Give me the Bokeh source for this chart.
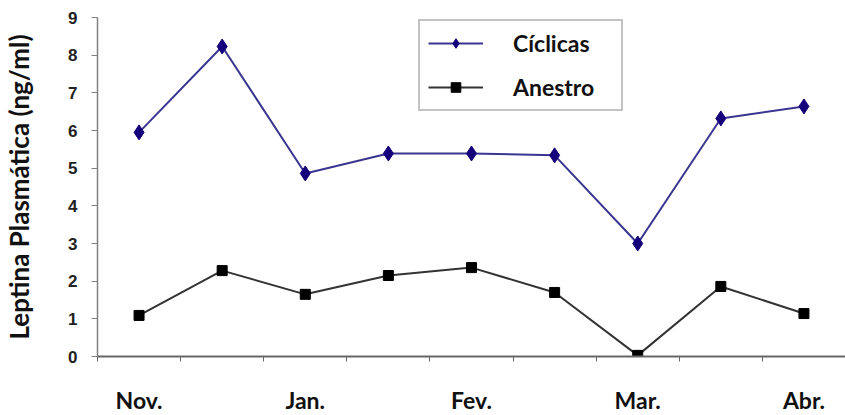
from bokeh.plotting import figure
from bokeh.models import (LinearAxis, FixedTicker, Legend, LegendItem, Range1d)
from bokeh.embed import file_html
from bokeh.resources import INLINE

months = ["Nov.", "", "Jan.", "", "Fev.", "", "Mar.", "", "Abr."]
ciclicas = [5.95, 8.23, 4.86, 5.39, 5.39, 5.34, 3.0, 6.32, 6.64]
anestro = [1.09, 2.28, 1.65, 2.15, 2.36, 1.70, 0.03, 1.86, 1.14]
y_ticks = [0, 1, 2, 3, 4, 5, 6, 7, 8, 9]
x = list(range(len(months)))

p = figure(frame_width=748, frame_height=339, output_backend="svg", toolbar_location=None,
           x_range=Range1d(-0.5, 8.5), y_range=Range1d(0, 9),
           min_border_left=97, min_border_right=0, min_border_top=17, min_border_bottom=55)
p.xaxis.visible = False
p.yaxis.visible = False
p.grid.visible = False
p.outline_line_color = None
p.background_fill_color = "white"
p.border_fill_color = "white"

# y axis
yax = LinearAxis(ticker=FixedTicker(ticks=y_ticks))
yax.axis_line_color = "#808080"
yax.axis_line_width = 1.5
yax.major_tick_line_color = "#808080"
yax.major_tick_out = 6
yax.major_tick_in = 0
yax.minor_tick_line_color = None
yax.major_label_text_font = "Liberation Sans"
yax.major_label_text_font_style = "bold"
yax.major_label_text_font_size = "17px"
yax.major_label_text_color = "#222222"
yax.major_label_standoff = 14
yax.axis_label = "Leptina Plasmática (ng/ml)"
yax.axis_label_text_font = "Lato"
yax.axis_label_text_font_style = "bold"
yax.axis_label_text_font_size = "26px"
yax.axis_label_text_color = "#111111"
yax.axis_label_standoff = 30
p.add_layout(yax, "left")

# x axis line with category-boundary ticks
xax = LinearAxis(ticker=FixedTicker(ticks=[i - 0.5 for i in range(len(months) + 1)]))
xax.axis_line_color = "#666666"
xax.axis_line_width = 2
xax.major_tick_line_color = "#666666"
xax.major_tick_out = 5
xax.major_tick_in = 0
xax.minor_tick_line_color = None
xax.major_label_text_font_size = "0px"
xax.major_label_standoff = 0
p.add_layout(xax, "below")

# month labels
lab = LinearAxis(ticker=FixedTicker(ticks=[0, 2, 4, 6, 8]),
                 major_label_overrides={i: months[i] for i in [0, 2, 4, 6, 8]})
lab.axis_line_color = None
lab.major_tick_line_color = None
lab.minor_tick_line_color = None
lab.major_label_text_font = "Lato"
lab.major_label_text_font_style = "bold"
lab.major_label_text_font_size = "23px"
lab.major_label_text_color = "#111111"
lab.major_label_standoff = 18
p.add_layout(lab, "below")

l1 = p.line(x, ciclicas, line_color="#3a3590", line_width=2)
m1 = p.scatter(x, ciclicas, marker="diamond", size=15, fill_color="#14007a",
               line_color="#14007a")
l2 = p.line(x, anestro, line_color="#333333", line_width=2)
m2 = p.scatter(x, anestro, marker="square", size=10, fill_color="black",
               line_color="black")

legend = Legend(items=[LegendItem(label="Cíclicas", renderers=[l1, m1]),
                       LegendItem(label="Anestro", renderers=[l2, m2])],
                location=(321, 245))
legend.border_line_color = "#888888"
legend.border_line_width = 2
legend.background_fill_color = "white"
legend.label_text_font = "Lato"
legend.label_text_font_style = "bold"
legend.label_text_font_size = "23px"
legend.label_text_color = "#111111"
legend.label_height = 24
legend.glyph_width = 55
legend.glyph_height = 24
legend.label_standoff = 30
legend.label_width = 100
legend.spacing = 16
legend.padding = 8
legend.margin = 0
p.add_layout(legend, "center")

open("out.html", "w").write(file_html(p, INLINE))
